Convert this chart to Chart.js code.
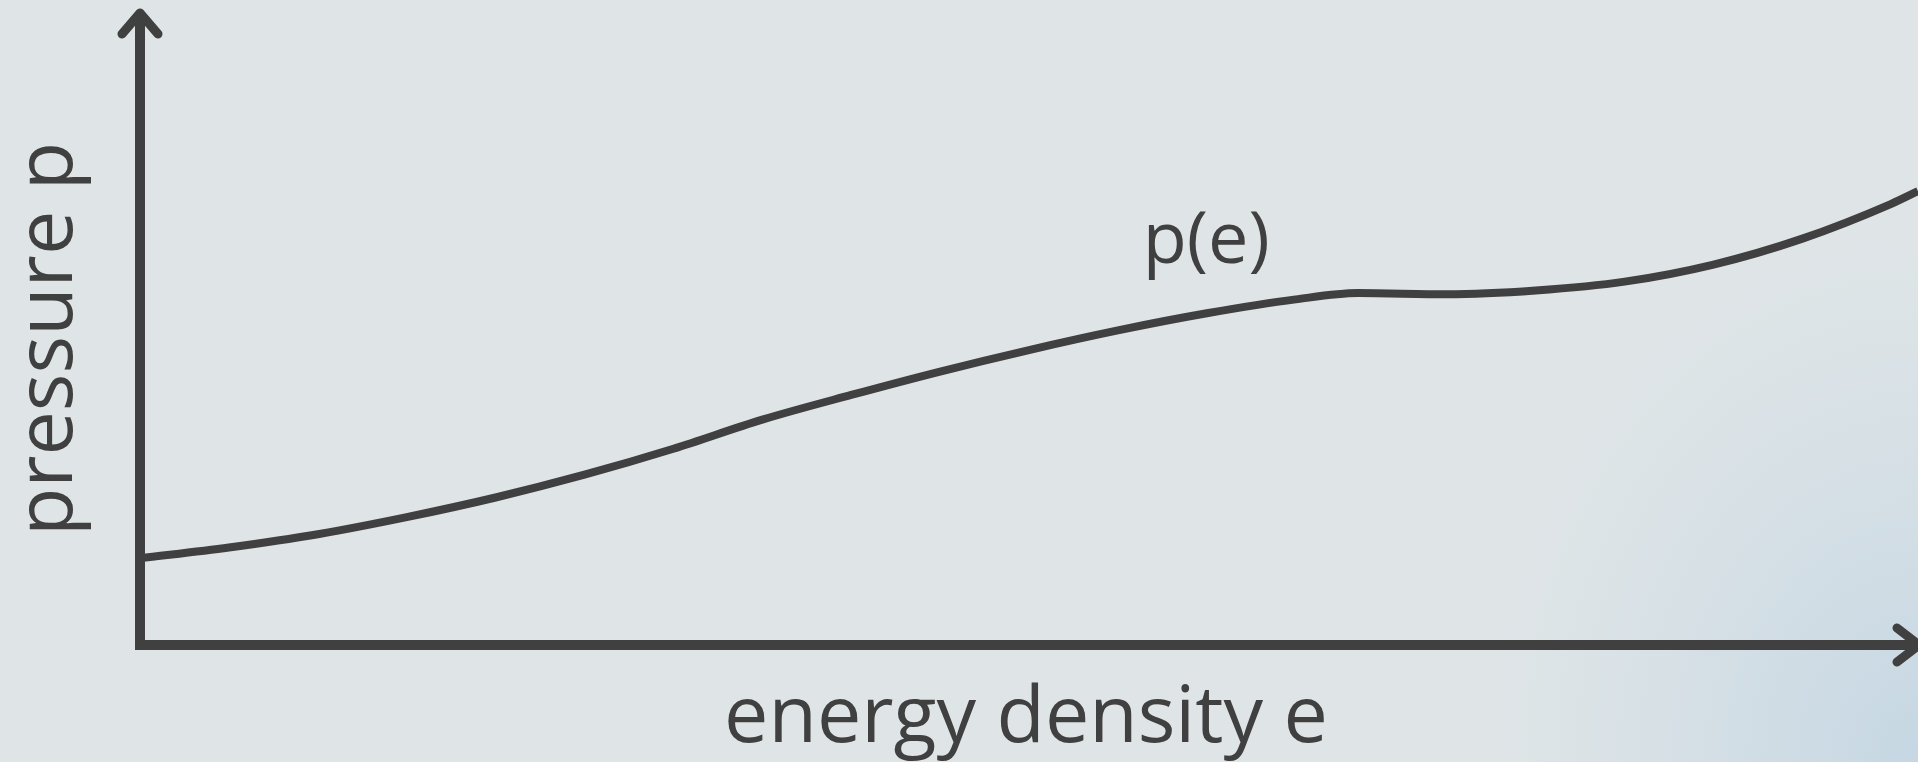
<!DOCTYPE html>
<html lang="en">
<head>
    <meta charset="UTF-8">
    <title>Pressure vs energy density</title>
    <script src="https://cdn.jsdelivr.net/npm/chart.js"></script>
    <style>
        html, body { margin: 0; padding: 0; }
        body {
            width: 1918px; height: 762px; overflow: hidden;
            background: radial-gradient(ellipse 420px 520px at 100% 100%, #c6d7e3 0%, rgba(198,215,227,0.5) 45%, rgba(223,229,232,0) 100%), #dfe5e7;
        }
        canvas { display: block; }
    </style>
</head>
<body>
    <canvas id="eosChart" width="1918" height="762"></canvas>

    <script>
        // curve (arbitrary units, axes run 0..10)
        const energyDensity = [0, 0.5, 1.0, 1.5, 2.0, 2.5, 3.0, 3.5,
                               4.0, 4.5, 5.0, 5.5, 6.0, 6.5, 6.85,
                               7.35, 7.85, 8.35, 8.85, 9.35, 9.85, 10.0];
        const pressure      = [1.37, 1.54, 1.75, 2.02, 2.33, 2.69, 3.10, 3.56,
                               3.95, 4.32, 4.66, 4.97, 5.24, 5.46, 5.56,
                               5.54, 5.60, 5.74, 6.01, 6.42, 6.97, 7.17];

        const xTitle = 'energy density e';
        const yTitle = 'pressure p';
        const curveLabel = 'p(e)';
        const curveLabelAt = [5.64, 6.03];

        const ink = '#404040';
        const font = '"Open Sans", "Noto Sans", sans-serif';

        const axesPlugin = {
            id: 'axesPlugin',
            afterDatasetsDraw(chart) {
                const c = chart.ctx;
                const xs = chart.scales.x, ys = chart.scales.y;
                const x0 = xs.getPixelForValue(0);
                const y0 = ys.getPixelForValue(0);
                const right = chart.width;
                const top = ys.getPixelForValue(10);

                c.save();
                c.strokeStyle = ink;
                c.fillStyle = ink;

                // axis lines
                c.lineWidth = 10;
                c.lineCap = 'butt';
                c.beginPath();
                c.moveTo(x0 - 5, y0);
                c.lineTo(right - 3, y0);
                c.moveTo(x0, y0 + 5);
                c.lineTo(x0, top + 5);
                c.stroke();

                // arrow heads
                c.lineWidth = 9;
                c.lineCap = 'round';
                c.lineJoin = 'round';
                c.beginPath();
                c.moveTo(x0 - 18, top + 22);
                c.lineTo(x0, top + 1);
                c.lineTo(x0 + 18, top + 22);
                c.moveTo(right - 21, y0 - 17);
                c.lineTo(right + 1, y0);
                c.lineTo(right - 21, y0 + 17);
                c.stroke();

                // titles
                c.font = '79px ' + font;
                c.textAlign = 'center';
                c.textBaseline = 'alphabetic';
                c.fillText(xTitle, (x0 + right) / 2 - 3, 742);

                c.save();
                c.translate(72, 339);
                c.rotate(-Math.PI / 2);
                c.fillText(yTitle, 0, 0);
                c.restore();

                c.font = '72px ' + font;
                c.textAlign = 'left';
                c.fillText(curveLabel, xs.getPixelForValue(curveLabelAt[0]), ys.getPixelForValue(curveLabelAt[1]));
                c.restore();
            }
        };

        const ctx = document.getElementById('eosChart').getContext('2d');
        new Chart(ctx, {
            type: 'line',
            data: {
                datasets: [{
                    data: energyDensity.map((e, i) => ({ x: e, y: pressure[i] })),
                    borderColor: ink,
                    borderWidth: 8,
                    pointRadius: 0,
                    cubicInterpolationMode: 'monotone',
                    fill: false
                }]
            },
            options: {
                responsive: false,
                animation: false,
                devicePixelRatio: 1,
                layout: { padding: { left: 140, top: 12, right: 0, bottom: 117 } },
                plugins: { legend: { display: false }, tooltip: { enabled: false } },
                scales: {
                    x: { type: 'linear', min: 0, max: 10, display: false },
                    y: { type: 'linear', min: 0, max: 10, display: false }
                }
            },
            plugins: [axesPlugin]
        });
    </script>
</body>
</html>
